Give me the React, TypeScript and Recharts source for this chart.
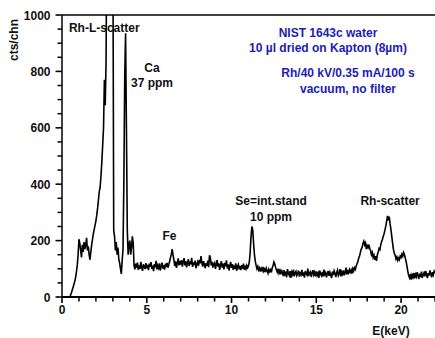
import React from "react";
import { LineChart, Line, XAxis, YAxis, ReferenceDot } from "recharts";

const FONT = '"Liberation Sans", Arial, Helvetica, sans-serif';
const BLUE = "#1c1cb4";

// detector channel width in keV
const CHANNEL_KEV = 0.05;

// counts per channel, one row per keV (20 channels)
const countsLow = [
  0, 0, 0, 0, 0, 0, 0, 0, 0, 0, 6, 14, 24, 34, 44, 55, 68, 88, 112, 150,
  205, 190, 165, 140, 185, 160, 195, 170, 185, 210, 165, 180, 150, 132, 160, 185, 205, 225, 240, 255,
  270, 290, 315, 345, 375, 390, 430, 480, 540, 600, 770, 680, 840, 1400, 2600, 2400, 3000, 2700, 2000, 1600,
  1300, 235, 215, 165, 195, 150, 175, 135, 120, 100, 82, 130, 170, 420, 780, 935, 600, 240, 150, 185,
  200, 150, 175, 215, 190, 110, 98, 118, 104, 122, 96, 112, 100, 125, 105, 93, 116, 108, 99, 120,
];

const countsMid = [
  102, 114, 95, 118, 107, 124, 100, 111, 92, 117, 105, 128, 98, 112, 103, 119, 94, 110, 122, 101,
  113, 97, 118, 106, 121, 104, 115, 127, 140, 152, 170, 148, 132, 110, 126, 103, 119, 137, 112, 128,
  115, 131, 108, 124, 138, 112, 127, 105, 121, 134, 110, 126, 116, 139, 107, 123, 113, 129, 102, 118,
  125, 110, 132, 119, 145, 121, 108, 127, 115, 102, 120, 111, 129, 106, 148, 140, 112, 125, 104, 117,
  122, 100, 115, 131, 108, 119, 96, 113, 127, 104, 118, 98, 121, 109, 130, 101, 116, 94, 111, 124,
  103, 117, 96, 112, 100, 119, 93, 108, 115, 98, 110, 95, 113, 101, 118, 97, 107, 99, 112, 104,
  110, 125, 160, 215, 250, 238, 190, 150, 126, 112, 100, 108, 96, 103, 90, 101, 94, 107, 92, 99,
];

const countsHigh = [
  88, 102, 93, 84, 98, 90, 96, 87, 104, 112, 124, 117, 105, 96, 88, 100, 85, 94, 80, 97,
  86, 74, 95, 81, 90, 70, 99, 84, 77, 92, 68, 88, 80, 97, 73, 85, 91, 76, 83, 94,
  72, 89, 80, 96, 75, 87, 69, 92, 83, 78, 101, 74, 86, 90, 71, 84, 95, 79, 88, 73,
  91, 77, 85, 68, 94, 82, 76, 89, 72, 97, 80, 86, 70, 83, 92, 75, 88, 79, 67, 90,
  78, 93, 84, 71, 87, 95, 76, 82, 99, 73, 89, 81, 94, 77, 86, 104, 80, 91, 85, 97,
  88, 96, 83, 100, 92, 104, 98, 110, 118, 125, 138, 145, 158, 170, 176, 190, 198, 185, 192, 170,
  182, 175, 186, 172, 165, 150, 158, 140, 148, 132, 145, 128, 150, 160, 172, 168, 185, 196, 205, 215,
  225, 238, 252, 270, 288, 272, 285, 260, 240, 215, 190, 168, 155, 148, 135, 142, 130, 138, 132, 145,
  140, 152, 145, 158, 150, 138, 125, 108, 90, 75, 68, 82, 62, 78, 70, 85, 66, 80, 72, 88,
  76, 64, 83, 71, 90, 68, 79, 86, 73, 92, 80, 67, 85, 76, 94, 82, 70, 88, 78, 91,
  84,
];

const energyTicks = [0, 1, 2, 3, 4, 5, 6, 7, 8, 9, 10, 11, 12, 13, 14, 15, 16, 17, 18, 19, 20, 21, 22];
const countTicks = [
  0, 50, 100, 150, 200, 250, 300, 350, 400, 450, 500, 550, 600, 650, 700, 750, 800, 850, 900, 950, 1000,
];

const spectrum = [...countsLow, ...countsMid, ...countsHigh].map((counts, i) => ({
  energy: Math.round(i * CHANNEL_KEV * 100) / 100,
  counts,
}));

type Note = {
  energy: number;
  counts: number;
  anchor: "start" | "middle";
  color: string;
  lines: string[];
};

// text blocks anchored in data space (first line baseline)
const notes: Note[] = [
  { energy: 0.41, counts: 940, anchor: "start", color: "#111", lines: ["Rh-L-scatter"] },
  { energy: 5.31, counts: 798, anchor: "middle", color: "#111", lines: ["Ca", "37 ppm"] },
  { energy: 6.34, counts: 202, anchor: "middle", color: "#111", lines: ["Fe"] },
  { energy: 12.33, counts: 326, anchor: "middle", color: "#111", lines: ["Se=int.stand", "10 ppm"] },
  { energy: 19.35, counts: 326, anchor: "middle", color: "#111", lines: ["Rh-scatter"] },
  {
    energy: 15.69,
    counts: 922,
    anchor: "middle",
    color: BLUE,
    lines: ["NIST 1643c water", "10 \u00b5l dried on Kapton (8\u00b5m)"],
  },
  {
    energy: 16.87,
    counts: 780,
    anchor: "middle",
    color: BLUE,
    lines: ["Rh/40 kV/0.35 mA/100 s", "vacuum, no filter"],
  },
];

const textStyle = { fontFamily: FONT, fontSize: 12, fontWeight: "bold" as const };
const tickLineStyle = { stroke: "#000", strokeWidth: 1.5 };

const NoteText = ({ cx, cy, note }: { cx: number; cy: number; note: Note }) => (
  <text x={cx} y={cy} textAnchor={note.anchor} fill={note.color} style={textStyle}>
    {note.lines.map((line, i) => (
      <tspan key={line} x={cx} dy={i === 0 ? 0 : 15.5}>
        {line}
      </tspan>
    ))}
  </text>
);

// every fifth keV: longer tick and a label
const BottomTick = (props: any) => {
  const { x, y, payload } = props;
  if (payload.value % 5 !== 0) return <g />;
  return (
    <g>
      <line x1={x} y1={y - 1} x2={x} y2={y + 1.5} stroke="#000" strokeWidth={1.5} />
      <text x={x} y={y + 12} textAnchor="middle" fill="#111" style={textStyle}>
        {payload.value}
      </text>
    </g>
  );
};

// every 200 counts: longer tick and a label
const LeftTick = (props: any) => {
  const { x, y, payload } = props;
  if (payload.value % 200 !== 0) return <g />;
  return (
    <g>
      <line x1={x - 2} y1={y} x2={x + 1} y2={y} stroke="#000" strokeWidth={1.5} />
      <text x={x - 7} y={y + 4.5} textAnchor="end" fill="#111" style={textStyle}>
        {payload.value}
      </text>
    </g>
  );
};

const App = () => {
  return (
    <div style={{ position: "absolute", left: 0, top: 0, background: "#fff" }}>
      <LineChart width={435} height={338} data={spectrum} margin={{ top: 0, right: 0, bottom: 0, left: 0 }}>
        <XAxis
          xAxisId="top"
          orientation="top"
          dataKey="energy"
          type="number"
          domain={[0, 22]}
          allowDataOverflow
          ticks={energyTicks}
          interval={0}
          height={15}
          tickSize={4}
          tick={false}
          tickLine={tickLineStyle}
          axisLine={{ stroke: "#000", strokeWidth: 1.5 }}
        />
        <XAxis
          dataKey="energy"
          type="number"
          domain={[0, 22]}
          allowDataOverflow
          ticks={energyTicks}
          interval={0}
          height={41}
          tickSize={4.5}
          tickMargin={0}
          tickLine={tickLineStyle}
          tick={<BottomTick />}
          axisLine={{ stroke: "#000", strokeWidth: 2 }}
          label={{
            content: () => (
              <text x={391} y={335} textAnchor="middle" fill="#111" style={textStyle}>
                E(keV)
              </text>
            ),
          }}
        />
        <YAxis
          type="number"
          domain={[0, 1000]}
          allowDataOverflow
          ticks={countTicks}
          interval={0}
          width={62}
          tickSize={4.5}
          tickMargin={0}
          tickLine={tickLineStyle}
          tick={<LeftTick />}
          axisLine={{ stroke: "#000", strokeWidth: 1.5 }}
          label={{
            content: () => (
              <text
                x={18}
                y={40}
                transform="rotate(-90 18 40)"
                textAnchor="middle"
                fill="#111"
                style={textStyle}
              >
                cts/chn
              </text>
            ),
          }}
        />
        <Line
          type="linear"
          dataKey="counts"
          stroke="#000"
          strokeWidth={1.6}
          dot={false}
          isAnimationActive={false}
        />
        {notes.map((n) => (
          <ReferenceDot
            key={n.lines[0]}
            x={n.energy}
            y={n.counts}
            r={0}
            ifOverflow="visible"
            shape={(p: any) => <NoteText cx={p.cx} cy={p.cy} note={n} />}
          />
        ))}
      </LineChart>
    </div>
  );
};

export default App;
